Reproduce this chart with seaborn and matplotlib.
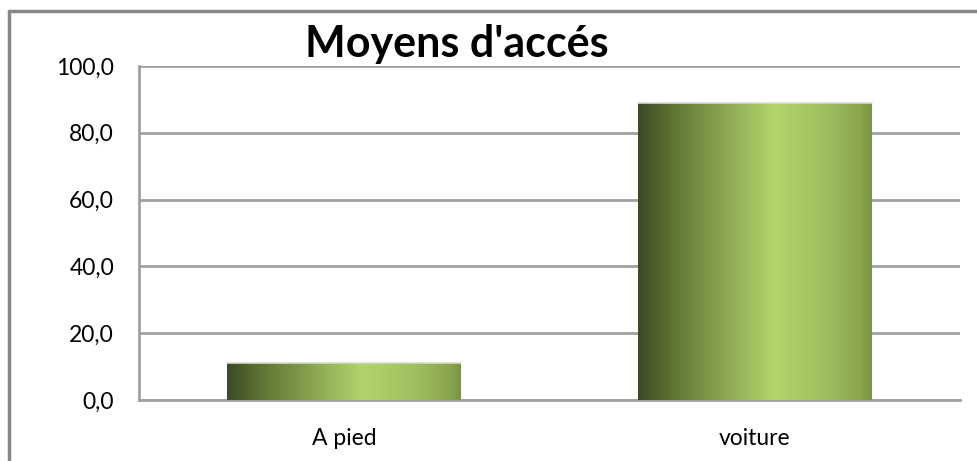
import numpy as np
import pandas as pd
import matplotlib
matplotlib.use("Agg")
import matplotlib.pyplot as plt
from matplotlib.colors import LinearSegmentedColormap
from matplotlib.ticker import FuncFormatter
import seaborn as sns

# Data
categories = ["A pied", "voiture"]
values = [11.1, 88.9]
title = "Moyens d'accés"
yticks = [0, 20, 40, 60, 80, 100]

sns.set_theme(style="white")
plt.rcParams['font.family'] = ['Lato', 'DejaVu Sans']

fig = plt.figure(figsize=(9.77, 4.61), dpi=100)
ax = fig.add_axes([139/977, (461-400)/461, (960-139)/977, (400-66)/461])

df = pd.DataFrame({"cat": categories, "val": values})
sns.barplot(data=df, x="cat", y="val", ax=ax, width=0.57, color="#9bbb59",
            edgecolor="none", zorder=3)

ax.set_ylim(0, 100)
ax.set_yticks(yticks)
ax.yaxis.set_major_formatter(FuncFormatter(lambda v, p: f"{v:.1f}".replace(".", ",")))
ax.grid(axis="y", color="#a0a0a0", linewidth=2, zorder=0)
ax.grid(axis="x", visible=False)
for s in ["top", "right"]:
    ax.spines[s].set_visible(False)
for s in ["left", "bottom"]:
    ax.spines[s].set_color("#a0a0a0")
    ax.spines[s].set_linewidth(2)
ax.tick_params(axis="both", length=0, labelsize=16.5, colors="black")
ax.tick_params(axis="y", pad=18)
ax.tick_params(axis="x", pad=20)
ax.set_xlabel("")
ax.set_ylabel("")

cmap = LinearSegmentedColormap.from_list("g", [
    (0.0, "#3a4a25"), (0.15, "#607535"), (0.4, "#90ad55"),
    (0.58, "#b2d46c"), (0.8, "#a0c060"), (0.95, "#8aa64e"), (1.0, "#7a9544")])
grad = np.linspace(0, 1, 256).reshape(1, -1)
for p in list(ax.patches):
    x0, y0 = p.get_x(), p.get_y()
    w, h = p.get_width(), p.get_height()
    im = ax.imshow(grad, cmap=cmap, aspect="auto", extent=[x0, x0 + w, y0, y0 + h],
                   zorder=4, interpolation="bicubic")
    im.set_clip_path(p)
    p.set_facecolor("none")
    ax.plot([x0, x0 + w], [y0 + h, y0 + h], color="#d8d8d8", lw=1.2, zorder=5)
ax.set_xlim(-0.5, 1.5)
ax.set_ylim(0, 100)

fig.text(457/977, 1 - 44/461, title, ha="center", va="center", fontsize=31,
         fontweight="bold", color="black")

# outer border (top and left visible)
fig.add_artist(plt.Line2D([9/977, 1.0], [1 - 11/461, 1 - 11/461], transform=fig.transFigure,
                          color="#888888", lw=2.5))
fig.add_artist(plt.Line2D([9/977, 9/977], [0, 1 - 11/461], transform=fig.transFigure,
                          color="#888888", lw=2.5))

fig.savefig("out.png", dpi=100)
